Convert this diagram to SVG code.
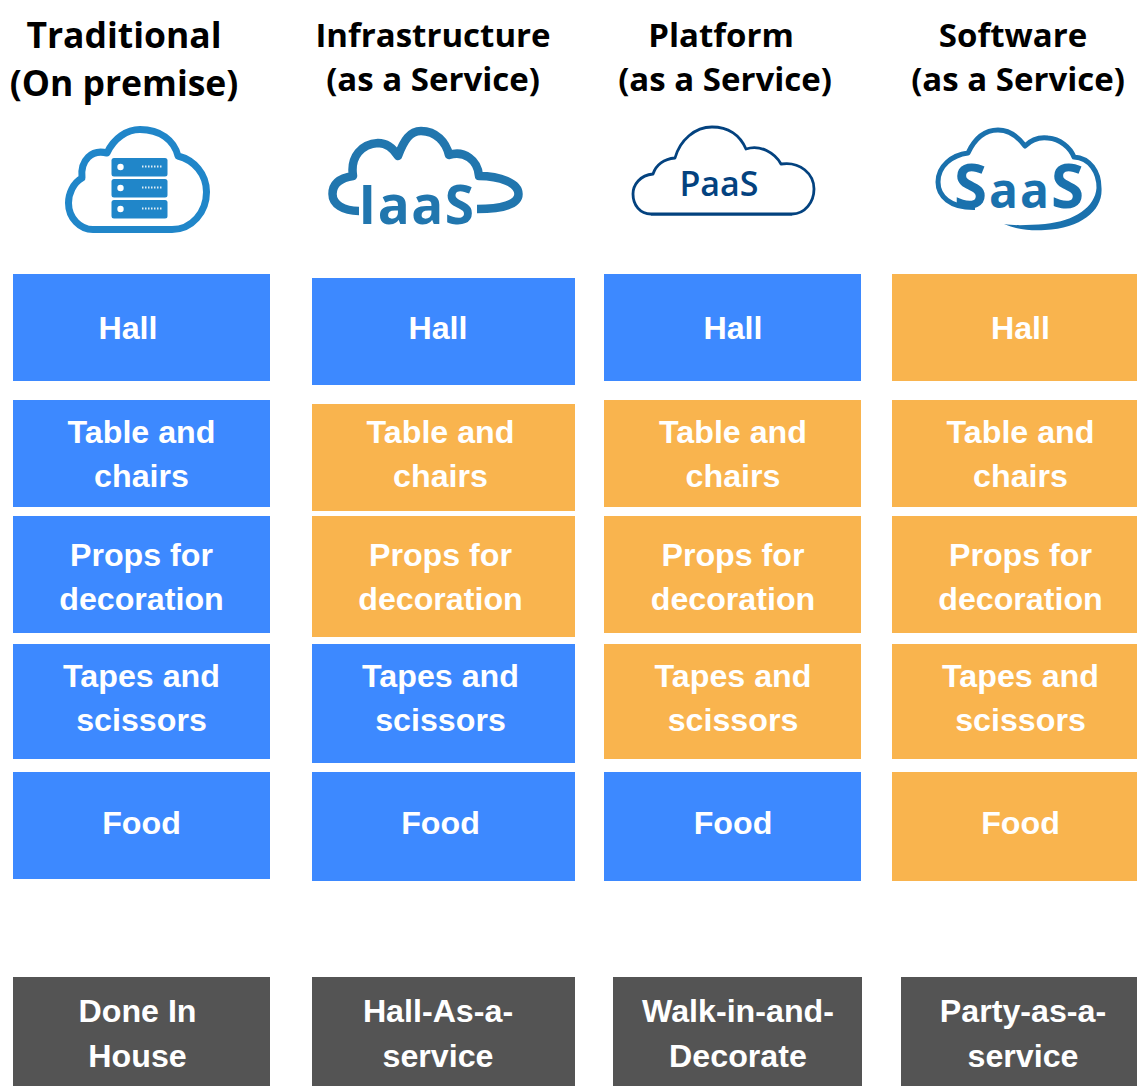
<svg xmlns="http://www.w3.org/2000/svg" width="1137" height="1086" viewBox="0 0 1137 1086">
<style>
.b{fill:#3d89ff}.o{fill:#f9b44e}.d{fill:#545454}
.t{font:bold 32.2px "Liberation Sans",Arial,sans-serif;fill:#fff;text-anchor:middle}
.h{font:bold 33px "Open Sans",sans-serif;fill:#000;text-anchor:middle}
.c{fill:none;stroke-linejoin:round}
.l{font-family:"Open Sans",sans-serif;font-weight:bold;text-anchor:middle}
</style>
<rect width="1137" height="1086" fill="#fff"/>
<g id="headers">
<text class="h" x="124" y="48" style="font-size:35.500px">Traditional</text><text class="h" x="124" y="96" style="font-size:35.500px">(On premise)</text>
<text class="h" x="433" y="47">Infrastructure</text><text class="h" x="433" y="91">(as a Service)</text>
<text class="h" x="721" y="47">Platform</text><text class="h" x="725" y="91">(as a Service)</text>
<text class="h" x="1013" y="47">Software</text><text class="h" x="1018" y="91">(as a Service)</text>
</g>
<g id="icon-traditional">
<path class="c" stroke="#2086c9" stroke-width="7" d="M93 229.500H172C192 229.500 206.500 212 206.500 192C206.500 174 194 160 178 156C174 140 160 129.500 140 129.500C127 129.500 114 138 107 153C92 149 80 160 82 178C73 183 68.500 194 68.500 203C68.500 218 80 229.500 93 229.500Z"/>
<g fill="#2086c9"><rect x="111.500" y="158" width="56" height="18.500" rx="2.500"/><rect x="111.500" y="179" width="56" height="18.500" rx="2.500"/><rect x="111.500" y="200" width="56" height="18.500" rx="2.500"/></g>
<g fill="#fff"><circle cx="120.500" cy="167" r="3.200"/><circle cx="120.500" cy="188" r="3.200"/><circle cx="120.500" cy="209" r="3.200"/></g>
<g stroke="#fff" stroke-width="2" stroke-dasharray="1.500 1.500" opacity=".85"><path d="M142 166.500H162M142 187.500H162M142 208.500H162"/></g>
</g>
<g id="icon-iaas">
<path class="c" stroke="#2176ae" stroke-width="8.500" d="M359 211C343 211 332.500 204 332.500 194C332.500 184 340 178 353 176C350 156 362 144 378 143C386 143 393 148 398 156C404 140 410 131 421 131C436 131 446 142 449 155C464 150 478 160 479 176C500 176 518.500 183 518.500 194C518.500 205 500 209 477 209"/>
<text class="l" x="417" y="224" font-size="53" letter-spacing="1.500" fill="#2176ae">IaaS</text>
</g>
<g id="icon-paas">
<path class="c" stroke="#03427f" stroke-width="2.800" d="M651 214H792C805 214 814 202 814 189C814 174 800 161 781 164C775 153 760 144 746 149C740 135 728 127 712 127C695 127 680 140 675 158C664 159 656 165 653 174C640 175 633 185 633 194C633 205 640 214 651 214Z"/>
<path stroke="#03427f" stroke-width="2" d="M651 214.500H792"/>
<text class="l" x="719" y="196" font-size="34" style="font-weight:600" fill="#03427f">PaaS</text>
</g>
<g id="icon-saas">
<path class="c" stroke="#1a71ad" stroke-width="5" d="M975 207.500C950 208 938 196 938 182C938 166 952 155 968 153C975 138 985 130 998 130C1010 130 1019 138 1025 146C1032 139 1040 137 1048 138C1060 139 1070 147 1074 157C1090 158 1099 172 1099 188"/>
<path fill="#1a71ad" d="M1096.500 188C1095 207 1075 221 1045 224C1030 225 1015 226 1004 224C1015 229 1030 231 1045 230C1082 228 1103 210 1101.500 188Z"/>
<text class="l" x="1020" y="208" font-size="48" letter-spacing="2" fill="#1a71ad"><tspan font-size="60">S</tspan>aa<tspan font-size="60">S</tspan></text>
</g>
<g id="col-traditional">
<g id="n1-hall"><rect class="b" x="13" y="274" width="257" height="107"/><text class="t" x="128" y="339">Hall</text></g>
<g id="n1-table"><rect class="b" x="13" y="400" width="257" height="107"/><text class="t" x="141.500" y="443">Table and</text><text class="t" x="141.500" y="487">chairs</text></g>
<g id="n1-props"><rect class="b" x="13" y="516" width="257" height="117"/><text class="t" x="141.500" y="566">Props for</text><text class="t" x="141.500" y="610">decoration</text></g>
<g id="n1-tapes"><rect class="b" x="13" y="644" width="257" height="115"/><text class="t" x="141.500" y="687">Tapes and</text><text class="t" x="141.500" y="731">scissors</text></g>
<g id="n1-food"><rect class="b" x="13" y="772" width="257" height="107"/><text class="t" x="141.500" y="834">Food</text></g>
<g id="n1-label"><rect class="d" x="13" y="977" width="257" height="109"/><text class="t" x="137.500" y="1022">Done In</text><text class="t" x="137.500" y="1067">House</text></g>
</g>
<g id="col-iaas">
<g id="n2-hall"><rect class="b" x="312" y="278" width="263" height="107"/><text class="t" x="438" y="339">Hall</text></g>
<g id="n2-table"><rect class="o" x="312" y="404" width="263" height="107"/><text class="t" x="440.500" y="443">Table and</text><text class="t" x="440.500" y="487">chairs</text></g>
<g id="n2-props"><rect class="o" x="312" y="516" width="263" height="121"/><text class="t" x="440.500" y="566">Props for</text><text class="t" x="440.500" y="610">decoration</text></g>
<g id="n2-tapes"><rect class="b" x="312" y="644" width="263" height="119"/><text class="t" x="440.500" y="687">Tapes and</text><text class="t" x="440.500" y="731">scissors</text></g>
<g id="n2-food"><rect class="b" x="312" y="772" width="263" height="109"/><text class="t" x="440.500" y="834">Food</text></g>
<g id="n2-label"><rect class="d" x="312" y="977" width="263" height="109"/><text class="t" x="438" y="1022">Hall-As-a-</text><text class="t" x="438" y="1067">service</text></g>
</g>
<g id="col-paas">
<g id="n3-hall"><rect class="b" x="604" y="274" width="257" height="107"/><text class="t" x="733" y="339">Hall</text></g>
<g id="n3-table"><rect class="o" x="604" y="400" width="257" height="107"/><text class="t" x="733" y="443">Table and</text><text class="t" x="733" y="487">chairs</text></g>
<g id="n3-props"><rect class="o" x="604" y="516" width="257" height="117"/><text class="t" x="733" y="566">Props for</text><text class="t" x="733" y="610">decoration</text></g>
<g id="n3-tapes"><rect class="o" x="604" y="644" width="257" height="115"/><text class="t" x="733" y="687">Tapes and</text><text class="t" x="733" y="731">scissors</text></g>
<g id="n3-food"><rect class="b" x="604" y="772" width="257" height="109"/><text class="t" x="733" y="834">Food</text></g>
<g id="n3-label"><rect class="d" x="613" y="977" width="249" height="109"/><text class="t" x="738" y="1022">Walk-in-and-</text><text class="t" x="738" y="1067">Decorate</text></g>
</g>
<g id="col-saas">
<g id="n4-hall"><rect class="o" x="892" y="274" width="245" height="107"/><text class="t" x="1020.500" y="339">Hall</text></g>
<g id="n4-table"><rect class="o" x="892" y="400" width="245" height="107"/><text class="t" x="1020.500" y="443">Table and</text><text class="t" x="1020.500" y="487">chairs</text></g>
<g id="n4-props"><rect class="o" x="892" y="516" width="245" height="117"/><text class="t" x="1020.500" y="566">Props for</text><text class="t" x="1020.500" y="610">decoration</text></g>
<g id="n4-tapes"><rect class="o" x="892" y="644" width="245" height="115"/><text class="t" x="1020.500" y="687">Tapes and</text><text class="t" x="1020.500" y="731">scissors</text></g>
<g id="n4-food"><rect class="o" x="892" y="772" width="245" height="109"/><text class="t" x="1020.500" y="834">Food</text></g>
<g id="n4-label"><rect class="d" x="901" y="977" width="236" height="109"/><text class="t" x="1023" y="1022">Party-as-a-</text><text class="t" x="1023" y="1067">service</text></g>
</g>
<g id="connectors"/>
</svg>
